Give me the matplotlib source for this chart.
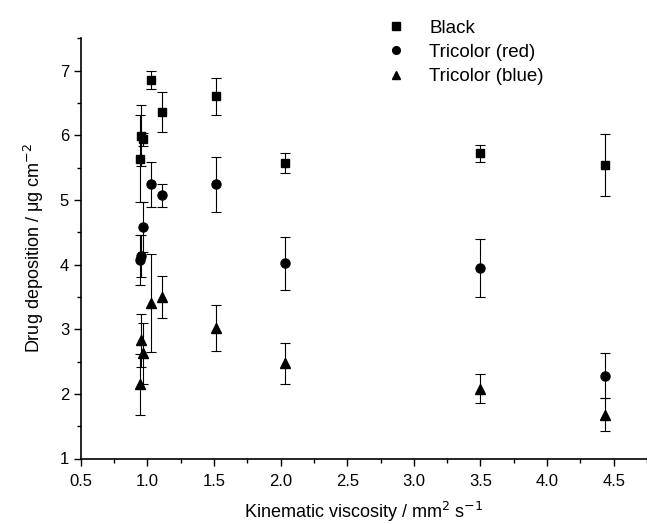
import matplotlib
matplotlib.use("Agg")
import matplotlib.pyplot as plt
from matplotlib.ticker import MultipleLocator

plt.rcParams['font.family'] = ['Liberation Sans', 'DejaVu Sans']

# viscosity (mm2/s) and deposition (ug/cm2) with error bars
black_x = [0.947, 0.953, 0.968, 1.027, 1.111, 1.517, 2.031, 3.494, 4.431]
black_y = [5.64, 5.99, 5.94, 6.86, 6.36, 6.60, 5.57, 5.72, 5.54]
black_err = [0.67, 0.47, 0.10, 0.14, 0.31, 0.29, 0.16, 0.13, 0.48]

red_x = [0.945, 0.955, 0.968, 1.027, 1.111, 1.517, 2.031, 3.494, 4.431]
red_y = [4.07, 4.13, 4.58, 5.24, 5.07, 5.24, 4.02, 3.95, 2.28]
red_err = [0.38, 0.33, 0.38, 0.35, 0.18, 0.43, 0.41, 0.45, 0.35]

blue_x = [0.945, 0.955, 0.968, 1.027, 1.111, 1.517, 2.031, 3.494, 4.431]
blue_y = [2.15, 2.83, 2.63, 3.40, 3.50, 3.02, 2.47, 2.08, 1.68]
blue_err = [0.47, 0.41, 0.47, 0.76, 0.33, 0.35, 0.31, 0.22, 0.26]

fig = plt.figure(figsize=(6.47, 5.24), dpi=100)
ax = fig.add_axes([0.125, 0.125, 0.875, 0.802])

kw = dict(linestyle='none', color='black', ecolor='black', elinewidth=0.8,
          capsize=3.5, capthick=0.8)
ax.errorbar(black_x, black_y, yerr=black_err, marker='s', markersize=6, label='Black', **kw)
ax.errorbar(red_x, red_y, yerr=red_err, marker='o', markersize=6.5, label='Tricolor (red)', **kw)
ax.errorbar(blue_x, blue_y, yerr=blue_err, marker='^', markersize=7, label='Tricolor (blue)', **kw)

ax.set_xlim(0.5, 4.75)
ax.set_ylim(1, 7.5)
ax.xaxis.set_minor_locator(MultipleLocator(0.25))
ax.yaxis.set_major_locator(MultipleLocator(1))
ax.yaxis.set_minor_locator(MultipleLocator(0.5))
ax.set_xticks([0.5, 1.0, 1.5, 2.0, 2.5, 3.0, 3.5, 4.0, 4.5])
ax.set_xticklabels(['0.5', '1.0', '1.5', '2.0', '2.5', '3.0', '3.5', '4.0', '4.5'])

for s in ['top', 'right']:
    ax.spines[s].set_visible(False)
for s in ['left', 'bottom']:
    ax.spines[s].set_linewidth(1.2)
ax.tick_params(which='major', direction='out', length=5, width=1, labelsize=12)
ax.tick_params(axis='x', which='major', pad=6)
ax.tick_params(which='minor', direction='out', length=3, width=1)

ax.set_xlabel('Kinematic viscosity / mm$^2$ s$^{-1}$', fontsize=13, labelpad=8)
ax.set_ylabel('Drug deposition / μg cm$^{-2}$', fontsize=13, labelpad=10)

handles, labels = ax.get_legend_handles_labels()
handles = [h[0] for h in handles]
fig.legend(handles, labels, loc='upper left', bbox_to_anchor=(0.565, 0.995),
           frameon=False, fontsize=13.5, handletextpad=1.1, labelspacing=0.38,
           handlelength=1.4, markerscale=0.85)

fig.savefig('out.png', dpi=100)
